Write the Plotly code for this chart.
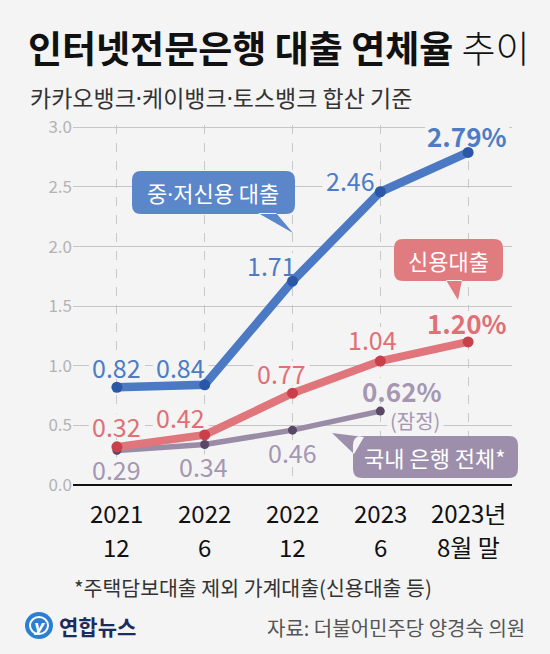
import plotly.graph_objects as go

# dati (연체율, %)
periodi_1 = ["2021", "2022", "2022", "2023", "2023년"]
periodi_2 = ["12", "6", "12", "6", "8월 말"]
x_idx = [0, 1, 2, 3, 4]

midlow = [0.82, 0.84, 1.71, 2.46, 2.79]       # 중·저신용 대출
credit = [0.32, 0.42, 0.77, 1.04, 1.20]       # 신용대출
banks = [0.29, 0.34, 0.46, 0.62]              # 국내 은행 전체*

midlow_lbl = ["0.82", "0.84", "1.71", "2.46", "<b>2.79%</b>"]
credit_lbl = ["0.32", "0.42", "0.77", "1.04", "<b>1.20%</b>"]
banks_lbl = ["0.29", "0.34", "0.46", "<b>0.62%</b>"]

y_ticks = [0, 0.5, 1.0, 1.5, 2.0, 2.5, 3.0]

W, H = 550, 654
L, R, T, B = 73, 38, 125, 169
PW, PH = W - L - R, H - T - B
BG = "#f4f4f4"
FONT = "Noto Sans CJK KR"
DOT = "<span style='font-family:Noto Sans'>·</span>"

BLUE, BLUE_D, BLUE_T, BLUE_BOX = "#4b79c3", "#2b58a6", "#4d7cc4", "#5b86c9"
RED, RED_D, RED_T, RED_BOX = "#e0757b", "#c9404b", "#e06f76", "#e07b80"
PUR, PUR_D, PUR_T, PUR_BOX = "#9a8ca6", "#5b4868", "#a597b2", "#9d8fab"


def px(x):
    return (x - L) / PW


def py(y):
    return (H - B - y) / PH


def bubble(x0, y0, x1, y1, tail, r=9):
    # rounded box + pointer, pixel coords -> paper path
    def P(a, b):
        return f"{px(a):.5f},{py(b):.5f}"
    s = f"M{P(x0 + r, y0)} L{P(x1 - r, y0)} Q{P(x1, y0)} {P(x1, y0 + r)} "
    s += f"L{P(x1, y1 - r)} Q{P(x1, y1)} {P(x1 - r, y1)} L{P(x0 + r, y1)} "
    s += f"Q{P(x0, y1)} {P(x0, y1 - r)} L{P(x0, y0 + r)} Q{P(x0, y0)} {P(x0 + r, y0)} Z "
    t = " L".join(P(a, b) for a, b in tail)
    s += f"M{t} Z"
    return s


def txt(x, y, t, size, color, anchor="center"):
    return dict(x=px(x), y=py(y), xref="paper", yref="paper", text=t,
                showarrow=False, xanchor=anchor, yanchor="middle",
                font=dict(family=FONT, size=size, color=color))


fig = go.Figure()

fig.add_trace(go.Scatter(
    x=x_idx[:4], y=banks, mode="lines+markers",
    line=dict(color=PUR, width=5.5),
    marker=dict(color=PUR_D, size=9), hoverinfo="skip"))
fig.add_trace(go.Scatter(
    x=x_idx, y=credit, mode="lines+markers",
    line=dict(color=RED, width=8),
    marker=dict(color=RED_D, size=11), hoverinfo="skip"))
fig.add_trace(go.Scatter(
    x=x_idx, y=midlow, mode="lines+markers",
    line=dict(color=BLUE, width=8.5),
    marker=dict(color=BLUE_D, size=11), hoverinfo="skip"))

ann = []
shapes = []

# 값 라벨 (x/y 이동량은 픽셀)
midlow_off = [(0, 20), (-24, 18), (-21, 16), (-30, 12), (-1, 17)]
credit_off = [(0, 21), (-24, 18), (-11, 20), (-8, 22), (-1, 19)]
banks_off = [(0, -19), (-1, -22), (0, -22), (22, 21)]

for vals, lbls, offs, col in [(midlow, midlow_lbl, midlow_off, BLUE_T),
                              (credit, credit_lbl, credit_off, RED_T),
                              (banks, banks_lbl, banks_off, PUR_T)]:
    for i, (v, t, (dx, dy)) in enumerate(zip(vals, lbls, offs)):
        big = t.startswith("<b>")
        ann.append(dict(x=x_idx[i], y=v, xref="x", yref="y", text=t,
                        showarrow=False, xshift=dx, yshift=dy,
                        xanchor="center", yanchor="middle",
                        font=dict(family=FONT, size=26 if big else 25, color=col)))
        # 라벨 뒤 격자선 가리기
        hw = 42 if big else 28
        shapes.append(dict(type="rect", xref="x", yref="y", layer="between",
                           xsizemode="pixel", ysizemode="pixel",
                           xanchor=x_idx[i], yanchor=v,
                           x0=dx - hw, x1=dx + hw, y0=dy - 12, y1=dy + 12,
                           line_width=0, fillcolor=BG))

ann.append(dict(x=x_idx[3], y=banks[3], xref="x", yref="y", text="(잠정)",
                showarrow=False, xshift=35, yshift=-9,
                xanchor="center", yanchor="middle",
                font=dict(family=FONT, size=20, color=PUR_T)))
shapes.append(dict(type="rect", xref="x", yref="y", layer="between",
                   xsizemode="pixel", ysizemode="pixel",
                   xanchor=x_idx[3], yanchor=banks[3],
                   x0=35 - 28, x1=35 + 28, y0=-9 - 11, y1=-9 + 11,
                   line_width=0, fillcolor=BG))

# x축 라벨 (두 줄)
for i in x_idx:
    for t, yy in [(periodi_1[i], 512), (periodi_2[i], 546)]:
        ann.append(dict(x=i, y=py(yy), xref="x", yref="paper", text=t,
                        showarrow=False, xanchor="center", yanchor="middle",
                        font=dict(family=FONT, size=24, color="#111")))

# 말풍선
shapes += [
    dict(type="path", xref="paper", yref="paper", line_width=0, fillcolor=BLUE_BOX,
         path=bubble(132, 171, 295, 214, [(258, 213), (276, 213), (293, 233)])),
    dict(type="path", xref="paper", yref="paper", line_width=0, fillcolor=RED_BOX,
         path=bubble(394, 239, 503, 281, [(446, 280), (462, 280), (458, 300)])),
    dict(type="path", xref="paper", yref="paper", line_width=0, fillcolor=PUR_BOX,
         path=bubble(353, 436, 518, 478, [(364, 437), (354, 454), (332, 433)])),
    # 로고 원
    dict(type="circle", xref="paper", yref="paper", line_width=0, fillcolor="#2b7fd3",
         x0=px(25), x1=px(53), y0=py(639), y1=py(612)),
    dict(type="circle", xref="paper", yref="paper", line=dict(color="white", width=2),
         fillcolor="rgba(0,0,0,0)", x0=px(30), x1=px(48), y0=py(634), y1=py(617)),
]

ann += [
    txt(213, 192, f"중{DOT}저신용 대출", 22, "white"),
    txt(448, 260, "신용대출", 22, "white"),
    txt(435, 457, "국내 은행 전체*", 22, "white"),
]

# 제목 / 부제 / 주석 / 출처
ann += [
    txt(26, 47, "<b>인터넷전문은행 대출 연체율</b> <span style='font-weight:300'>추이</span>",
        37, "#111", anchor="left"),
    txt(28, 97, f"카카오뱅크{DOT}케이뱅크{DOT}토스뱅크 합산 기준", 23, "#333", anchor="left"),
    txt(72, 587, "*주택담보대출 제외 가계대출(신용대출 등)", 20.5, "#333", anchor="left"),
    txt(527, 627, "자료: 더불어민주당 양경숙 의원", 20, "#555", anchor="right"),
    txt(57, 626, "<b>연합뉴스</b>", 21, "#1d2a5c", anchor="left"),
]
ann.append(dict(x=px(39), y=py(626), xref="paper", yref="paper", text="<b><i>y</i></b>",
                showarrow=False, xanchor="center", yanchor="middle",
                font=dict(family="DejaVu Sans", size=16, color="white")))

fig.update_layout(
    width=W, height=H,
    margin=dict(l=L, r=R, t=T, b=B),
    paper_bgcolor=BG, plot_bgcolor=BG,
    showlegend=False,
    annotations=ann, shapes=shapes,
    xaxis=dict(range=[-0.5, 4.5], tickvals=x_idx, showticklabels=False,
               showgrid=True, gridcolor="#c9c9c9", griddash="dash", gridwidth=1,
               zeroline=False, fixedrange=True),
    yaxis=dict(range=[0, 3.02], tickvals=y_ticks, ticktext=[f"{v:.1f}" for v in y_ticks],
               showgrid=True, gridcolor="#c6c6c6", gridwidth=1,
               zeroline=True, zerolinecolor="#111", zerolinewidth=2,
               tickfont=dict(family=FONT, size=17, color="#b3b3b3"),
               fixedrange=True),
)

fig.write_html("out.html", config={"displayModeBar": False},
               post_script="document.body.style.margin='0';")
